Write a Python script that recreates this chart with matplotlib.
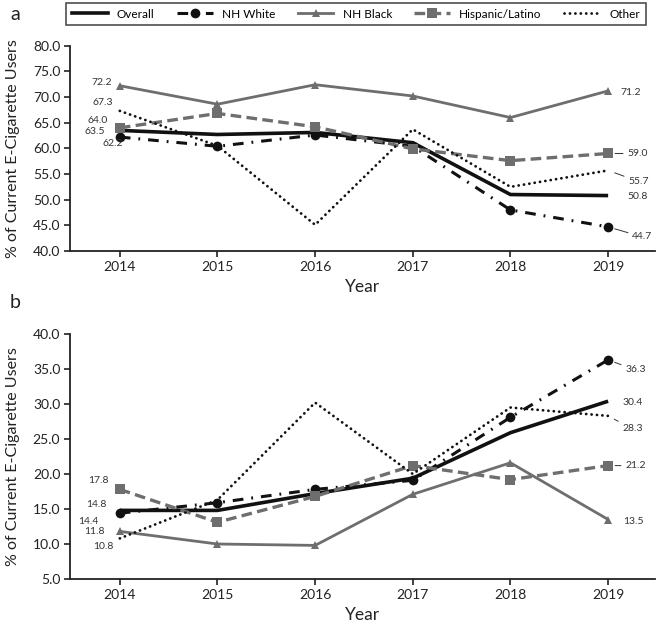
import matplotlib
matplotlib.use("Agg")
import matplotlib.pyplot as plt
from matplotlib.lines import Line2D

plt.rcParams['font.family'] = ['Lato', 'DejaVu Sans']

years = [2014, 2015, 2016, 2017, 2018, 2019]

# Panel a
a_overall = [63.5, 62.7, 63.1, 61.1, 51.0, 50.8]
a_white = [62.2, 60.4, 62.6, 60.4, 48.0, 44.7]
a_black = [72.2, 68.6, 72.4, 70.2, 66.0, 71.2]
a_hisp = [64.0, 66.8, 64.2, 59.9, 57.6, 59.0]
a_other = [67.3, 60.5, 45.1, 63.7, 52.5, 55.7]

# Panel b
b_overall = [14.8, 14.8, 17.2, 19.4, 25.9, 30.4]
b_white = [14.4, 15.9, 17.8, 19.1, 28.1, 36.3]
b_black = [11.8, 10.0, 9.8, 17.1, 21.6, 13.5]
b_hisp = [17.8, 13.1, 16.8, 21.2, 19.2, 21.2]
b_other = [10.8, 16.3, 30.2, 20.0, 29.5, 28.3]

series_names = ["Overall", "NH White", "NH Black", "Hispanic/Latino", "Other"]
a_yticks = [40, 45, 50, 55, 60, 65, 70, 75, 80]
b_yticks = [5, 10, 15, 20, 25, 30, 35, 40]

BLACK = "#111111"
GRAY = "#6e6e6e"
styles = {
    "Overall": dict(color=BLACK, lw=2.6, ls='-', marker=None),
    "NH White": dict(color=BLACK, lw=2.2, ls=(0, (3.5, 2.6, 0.6, 2.6)), marker='o', ms=7),
    "NH Black": dict(color=GRAY, lw=2.0, ls='-', marker='^', ms=5.5),
    "Hispanic/Latino": dict(color=GRAY, lw=2.4, ls=(0, (3.2, 1.6)), marker='s', ms=7),
    "Other": dict(color=BLACK, lw=2.0, ls=(0, (0.05, 1.9)), marker=None),
}

W, H = 658, 625
fig = plt.figure(figsize=(W / 100, H / 100), dpi=100)

def px_axes(l, t, r, b):
    return fig.add_axes([l / W, 1 - b / H, (r - l) / W, (b - t) / H])

def draw(ax, data, yticks, left_labels, right_labels, hpx):
    for name, vals in zip(series_names, data):
        st = styles[name]
        ax.plot(years, vals, color=st['color'], lw=st['lw'], linestyle=st['ls'],
                marker=st['marker'], ms=st.get('ms', 0),
                markeredgewidth=0, dash_capstyle='round' if name == 'Other' else 'butt',
                solid_capstyle='butt', zorder=3)
    ax.set_xlim(2013.49, 2019.48)
    ax.set_ylim(yticks[0], yticks[-1])
    ax.set_yticks(yticks)
    ax.set_yticklabels([f"{v:.1f}" for v in yticks])
    ax.set_xticks(years)
    ax.set_xticklabels([str(y) for y in years])
    for s in ['top', 'right']:
        ax.spines[s].set_visible(False)
    for s in ['left', 'bottom']:
        ax.spines[s].set_linewidth(1.3)
        ax.spines[s].set_color('#222222')
    ax.tick_params(direction='out', length=4, width=1.2, colors='#222222',
                   labelsize=10, pad=3)
    ax.set_xlabel("Year", fontsize=12.5, color='#222222')
    ax.xaxis.set_label_coords(0.5, -28 / hpx)
    ax.set_ylabel("% of Current E-Cigarette Users", fontsize=11.5, color='#222222')
    ax.yaxis.set_label_coords(-50 / 585, 0.5)
    k = 0.72
    for idx, dx, dy in left_labels:
        v = data[idx][0]
        ax.annotate(f"{v:.1f}", (years[0], v), xytext=(dx * k, -dy * k),
                    textcoords='offset points', ha='right', va='center',
                    fontsize=7.5, color='#333333')
    for idx, dx, dy, leader in right_labels:
        v = data[idx][-1]
        ap = dict(arrowstyle='-', color='#333333', lw=0.7, shrinkA=1, shrinkB=5) if leader else None
        ax.annotate(f"{v:.1f}", (years[-1], v), xytext=(dx * k, -dy * k),
                    textcoords='offset points', ha='left', va='center',
                    fontsize=7.5, color='#333333', arrowprops=ap)

ax1 = px_axes(70, 45.7, 655, 251)
draw(ax1, [a_overall, a_white, a_black, a_hisp, a_other], a_yticks,
     left_labels=[(2, -8, -3), (4, -7, -8), (3, -12, -7), (0, -15, 1), (1, 3, 6)],
     right_labels=[(2, 12, 2, False), (3, 19, 0, True), (4, 20, 11, True),
                   (0, 19, 1, False), (1, 24, 10, True)], hpx=205)

ax2 = px_axes(70, 334, 655, 579)
draw(ax2, [b_overall, b_white, b_black, b_hisp, b_other], b_yticks,
     left_labels=[(3, -11, -9), (0, -13, -6), (1, -21, 8), (2, -15, 0), (4, -6, 8)],
     right_labels=[(1, 17, 10, True), (0, 14, 1.5, False), (4, 14, 13, True),
                   (3, 17, 0, True), (2, 15, 2, False)], hpx=245)

fig.text(10 / W, 1 - 14 / H, "a", fontsize=14, va='center', ha='left', color='#222222')
fig.text(10 / W, 1 - 302 / H, "b", fontsize=14, va='center', ha='left', color='#222222')

handles = []
for name in series_names:
    st = styles[name]
    handles.append(Line2D([0, 1], [0, 0], color=st['color'], lw=st['lw'], linestyle=st['ls'],
                          marker=st['marker'], ms=st.get('ms', 0), markeredgewidth=0,
                          dash_capstyle='round' if name == 'Other' else 'butt'))
leg = fig.legend(handles, series_names, loc='center', bbox_to_anchor=(356 / W, 1 - 14 / H),
                 ncol=5, fontsize=8.5, frameon=True, fancybox=False, edgecolor='#222222',
                 handlelength=3.0, columnspacing=1.9, handletextpad=0.8, borderpad=0.5,
                 numpoints=1)
leg.get_frame().set_linewidth(1.2)

fig.savefig("out.png", dpi=100)
